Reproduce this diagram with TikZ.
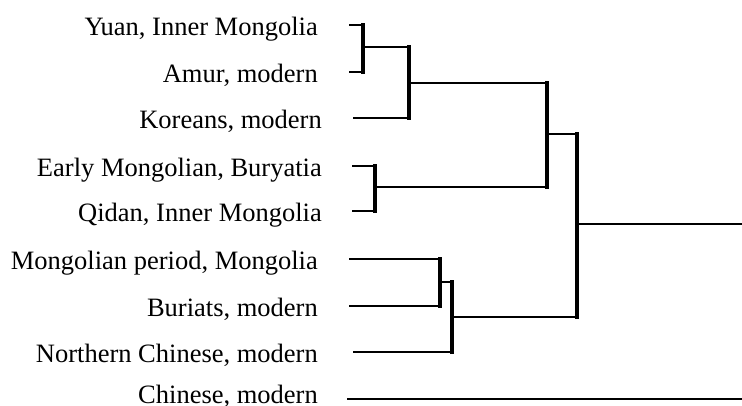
\documentclass[tikz,border=0pt]{standalone}
\usepackage{fontspec}
\setmainfont{Liberation Serif}
\begin{document}
\begin{tikzpicture}[x=1pt,y=-1pt,
  lbl/.style={anchor=base east,inner sep=0pt,font=\fontsize{26.5}{30}\selectfont},
  hbar/.style={line width=2pt},
  vbar/.style={line width=3.5pt,line cap=rect}]
\useasboundingbox (0,0) rectangle (742,405);
% labels
\node[lbl] (l1) at (318,35.5) {Yuan, Inner Mongolia};
\node[lbl] (l2) at (318,82) {Amur, modern};
\node[lbl] (l3) at (322,128.5) {Koreans, modern};
\node[lbl] (l4) at (322,176) {Early Mongolian, Buryatia};
\node[lbl] (l5) at (322,221) {Qidan, Inner Mongolia};
\node[lbl] (l6) at (318,269) {Mongolian period, Mongolia};
\node[lbl] (l7) at (318,316) {Buriats, modern};
\node[lbl] (l8) at (318,362) {Northern Chinese, modern};
\node[lbl] (l9) at (318,403) {Chinese, modern};
% leaf starts
\coordinate (s1) at (349,25);
\coordinate (s2) at (349,72);
\coordinate (s3) at (353,118);
\coordinate (s4) at (352,166);
\coordinate (s5) at (352,211);
\coordinate (s6) at (349,259);
\coordinate (s7) at (349,306);
\coordinate (s8) at (353,352);
\coordinate (s9) at (347,399);
% clade verticals (top / bottom)
\coordinate (a1) at (363,25);  \coordinate (a2) at (363,72);
\coordinate (b1) at (409,47);  \coordinate (b2) at (409,118);
\coordinate (c1) at (375,166); \coordinate (c2) at (375,211);
\coordinate (d1) at (547,83);  \coordinate (d2) at (547,187);
\coordinate (e1) at (440,259); \coordinate (e2) at (440,306);
\coordinate (f1) at (452,282); \coordinate (f2) at (452,352);
\coordinate (g1) at (577,134); \coordinate (g2) at (577,317);
\coordinate (am) at (363,47);
\coordinate (bm) at (409,83);
\coordinate (cm) at (377,187);
\coordinate (dm) at (547,134);
\coordinate (em) at (440,282);
\coordinate (fm) at (452,317);
\coordinate (gm) at (577,224);
\coordinate (root) at (742,224);
\coordinate (e9) at (742,399);
% leaves
\draw[hbar] (s1) -- (a1);
\draw[hbar] (s2) -- (a2);
\draw[hbar] (s3) -- (b2);
\draw[hbar] (s4) -- (c1);
\draw[hbar] (s5) -- (c2);
\draw[hbar] (s6) -- (e1);
\draw[hbar] (s7) -- (e2);
\draw[hbar] (s8) -- (f2);
\draw[hbar] (s9) -- (e9);
% verticals
\draw[vbar] (a1) -- (a2);
\draw[vbar] (b1) -- (b2);
\draw[vbar] (c1) -- (c2);
\draw[vbar] (d1) -- (d2);
\draw[vbar] (e1) -- (e2);
\draw[vbar] (f1) -- (f2);
\draw[vbar] (g1) -- (g2);
% joins
\draw[hbar] (am) -- (b1);
\draw[hbar] (bm) -- (d1);
\draw[hbar] (cm) -- (d2);
\draw[hbar] (dm) -- (g1);
\draw[hbar] (em) -- (f1);
\draw[hbar] (fm) -- (g2);
\draw[hbar] (gm) -- (root);
\end{tikzpicture}
\end{document}
